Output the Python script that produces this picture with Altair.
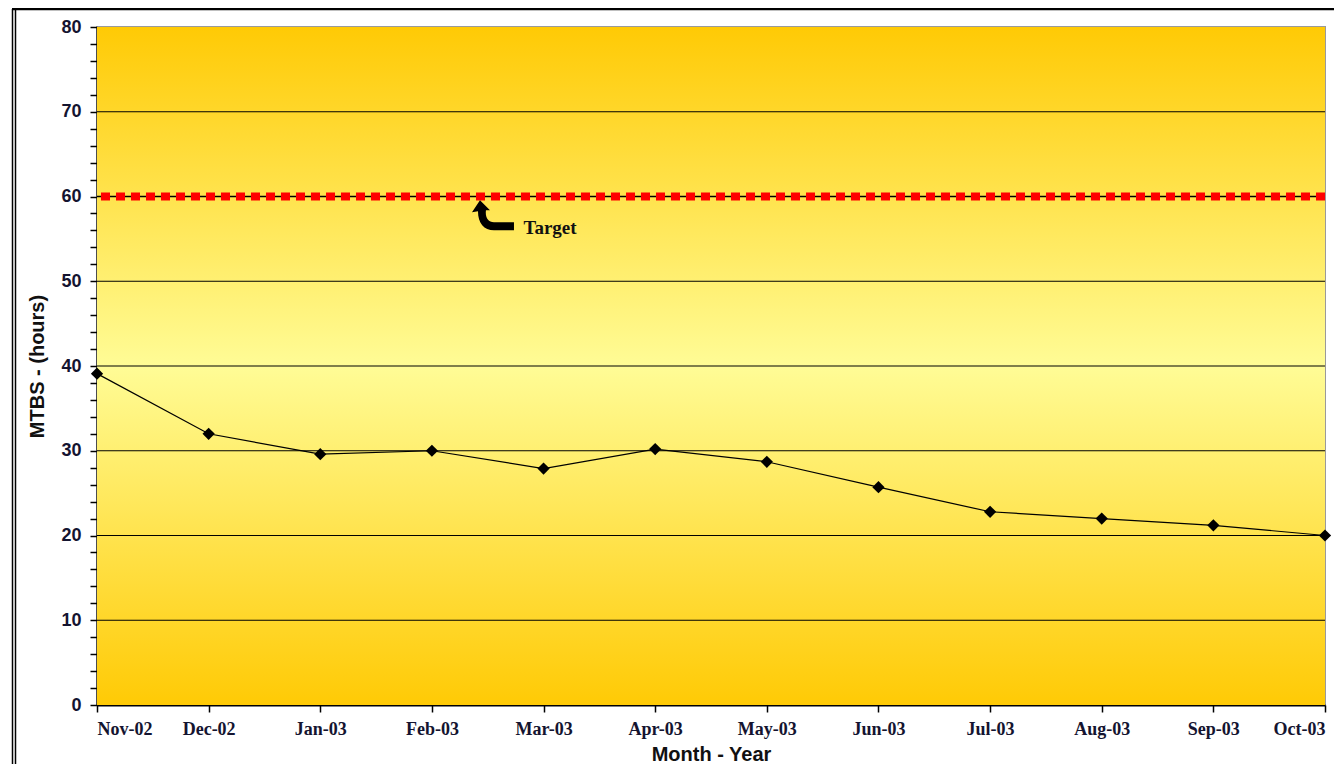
import altair as alt
import pandas as pd

months = ["Nov-02", "Dec-02", "Jan-03", "Feb-03", "Mar-03", "Apr-03",
          "May-03", "Jun-03", "Jul-03", "Aug-03", "Sep-03", "Oct-03"]
mtbs = [39.1, 32.0, 29.6, 30.0, 27.9, 30.2, 28.7, 25.7, 22.8, 22.0, 21.2, 20.0]
target = 60
y_ticks = list(range(0, 81, 2))
grid_vals = [10, 20, 30, 40, 50, 60, 70]

W, H = 1228, 678

df = pd.DataFrame({"idx": list(range(len(months))), "month": months, "mtbs": mtbs})
tdf = pd.DataFrame({"t": [target]})
gdf = pd.DataFrame({"g": grid_vals})
ann = pd.DataFrame({"x": [3.556], "y": [57.8], "tx": [3.82], "ty": [56.3], "label": ["Target"]})

label_map = "[" + ",".join('"%s"' % m for m in months) + "]"

xscale = alt.Scale(domain=[0, 11], nice=False, zero=False)
yscale = alt.Scale(domain=[0, 80], nice=False)

xaxis = alt.Axis(
    title="Month - Year", values=list(range(12)),
    labelExpr=label_map + "[datum.value]", labelOverlap=False,
    labelFont="Liberation Serif", labelFontWeight="bold", labelFontSize=18,
    labelColor="#141430", labelPadding=8,
    titleFont="Liberation Sans", titleFontWeight="bold", titleFontSize=20,
    titleColor="#111", titlePadding=6,
    domainColor="black", domainWidth=2, tickColor="black", tickSize=7, tickWidth=1.5,
    grid=False,
)
yaxis = alt.Axis(
    title="MTBS - (hours)", values=y_ticks,
    labelExpr="datum.value % 10 === 0 ? datum.label : ''", labelOverlap=False,
    labelFont="Liberation Sans", labelFontWeight="bold", labelFontSize=18,
    labelColor="#141430", labelPadding=9,
    titleFont="Liberation Sans", titleFontWeight="bold", titleFontSize=20,
    titleColor="#111", titlePadding=13,
    domainColor="black", domainWidth=2, tickColor="black", tickSize=7, tickWidth=1.5,
    grid=False,
)


def X(f):
    return alt.X(f, type="quantitative", scale=xscale, axis=xaxis)


def Y(f):
    return alt.Y(f, type="quantitative", scale=yscale, axis=yaxis)


bg = alt.Chart(tdf).mark_rect(
    fill={"gradient": "linear", "x1": 0, "y1": 0, "x2": 0, "y2": 1,
          "stops": [{"offset": 0, "color": "#FFCA05"},
                    {"offset": 0.5, "color": "#FFFC96"},
                    {"offset": 1, "color": "#FFCA05"}]}
).encode(x=alt.value(0), x2=alt.value(W), y=alt.value(0), y2=alt.value(H))

grid = alt.Chart(gdf).mark_rule(color="black", strokeWidth=1.2).encode(y=Y("g"))

tline = alt.Chart(tdf).mark_rule(color="black", strokeWidth=1.5).encode(y=Y("t"))
tdash = alt.Chart(tdf).mark_rule(color="#FF0000", strokeWidth=8, strokeDash=[9, 6]).encode(y=Y("t"))

line = alt.Chart(df).mark_line(color="black", strokeWidth=1.2).encode(x=X("idx"), y=Y("mtbs"))
pts = alt.Chart(df).mark_point(shape="diamond", filled=True, color="black", size=150, opacity=1).encode(
    x=X("idx"), y=Y("mtbs"))

arrow_path = ("M -0.7 -0.75 L -1.1 -0.15 L -0.8 -0.2 C -0.8 0.4 -0.5 0.75 0 0.75 "
              "L 1 0.75 L 1 0.35 L 0 0.35 C -0.3 0.35 -0.45 0.1 -0.4 -0.25 L -0.2 -0.25 Z")
arrow = alt.Chart(ann).mark_point(shape=arrow_path, filled=True, color="black", size=1600, opacity=1).encode(
    x=X("x"), y=Y("y"))
ann_text = alt.Chart(ann).mark_text(
    font="Liberation Serif", fontWeight="bold", fontSize=19, align="left", baseline="middle",
    color="#111").encode(x=X("tx"), y=Y("ty"), text="label:N")

# outer frame
frame_top = alt.Chart(tdf).mark_rule(color="black", strokeWidth=2.5).encode(
    x=alt.value(-85), x2=alt.value(W + 20), y=alt.value(-18))
frame_l1 = alt.Chart(tdf).mark_rule(color="black", strokeWidth=1.5).encode(
    x=alt.value(-84.5), y=alt.value(-18), y2=alt.value(H + 70))
frame_l2 = alt.Chart(tdf).mark_rule(color="black", strokeWidth=1.5).encode(
    x=alt.value(-81.5), y=alt.value(-18), y2=alt.value(H + 70))

chart = alt.layer(
    bg, grid, tline, tdash, line, pts, arrow, ann_text, frame_top, frame_l1, frame_l2
).properties(
    width=W, height=H,
    autosize=alt.AutoSizeParams(type="none"),
    padding={"left": 89, "top": 19, "right": 9, "bottom": 59},
    background="white",
).configure_view(stroke="#9a9a9a", strokeWidth=2)

chart.save("out.html", embed_options={"renderer": "svg", "actions": False})
